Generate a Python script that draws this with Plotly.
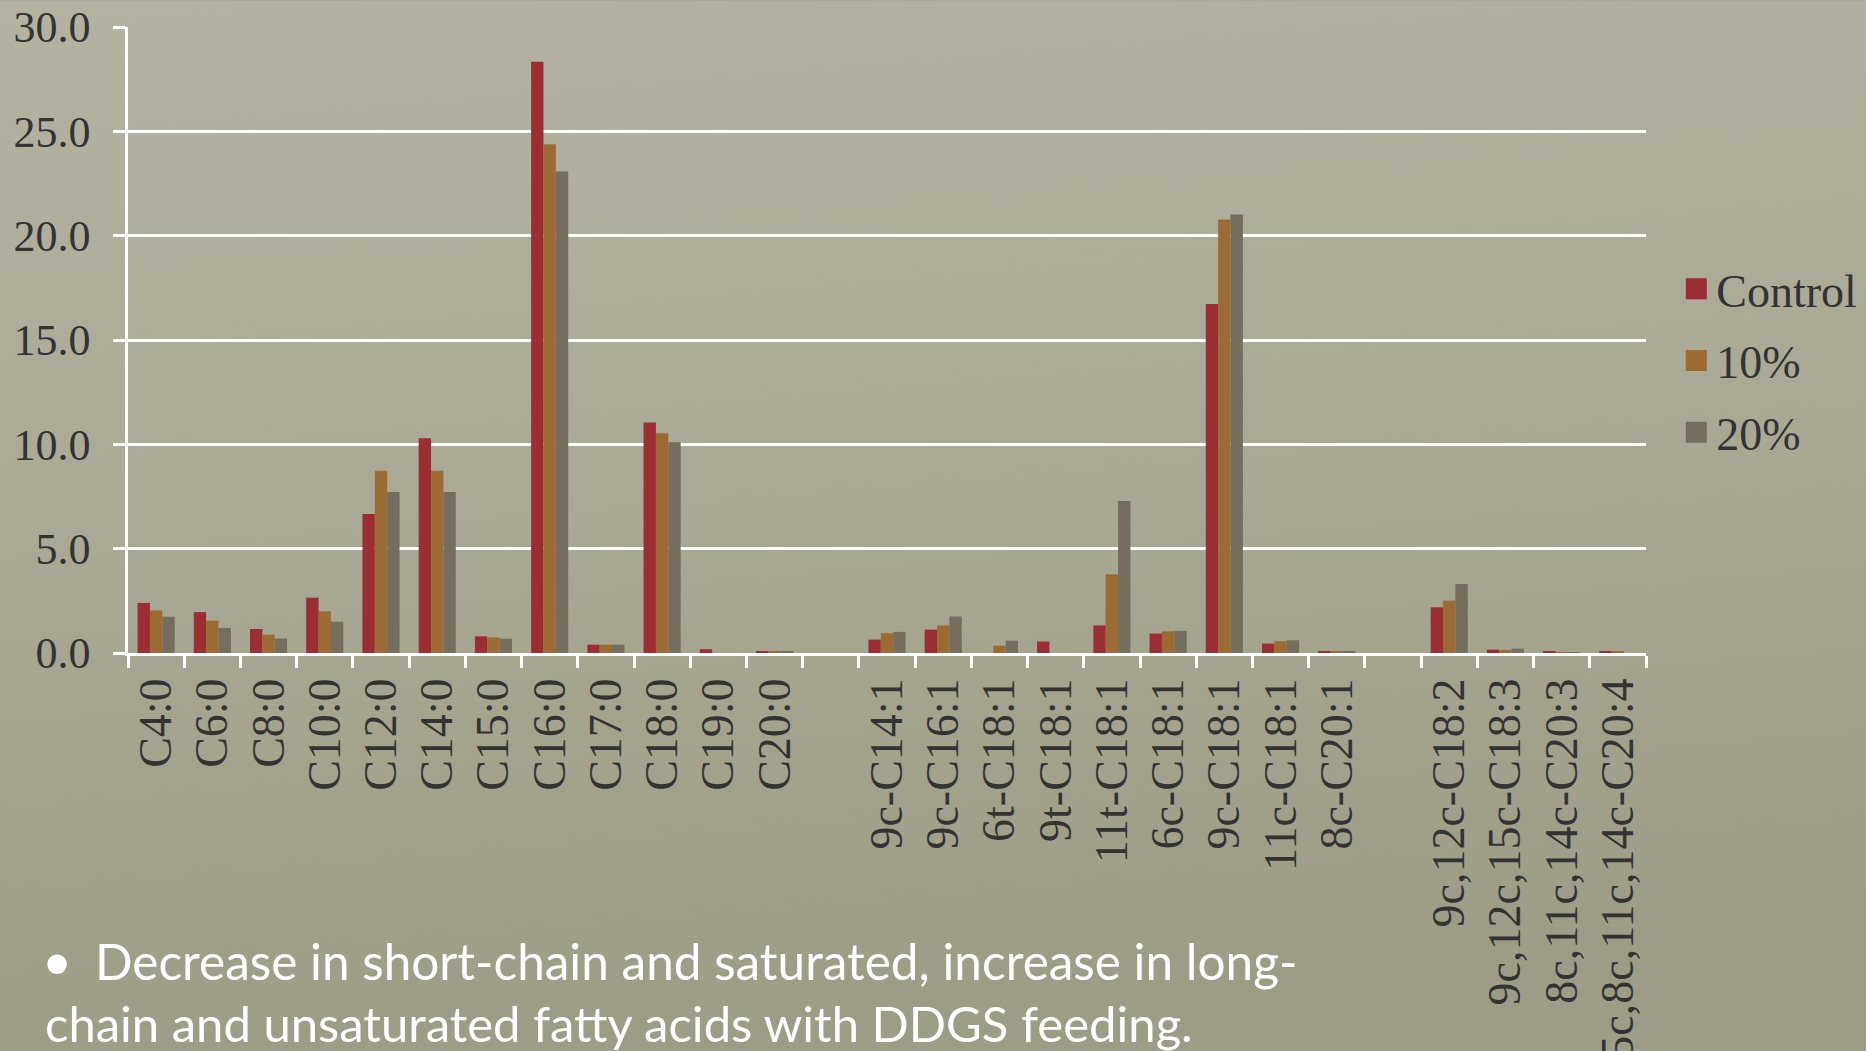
import base64
import plotly.graph_objects as go

W, H = 1866, 1051
PL, PR, PT, PB = 128.3, 1645.7, 26.5, 653.0

categories = ["C4:0", "C6:0", "C8:0", "C10:0", "C12:0", "C14:0", "C15:0", "C16:0",
              "C17:0", "C18:0", "C19:0", "C20:0", " ",
              "9c-C14:1", "9c-C16:1", "6t-C18:1", "9t-C18:1", "11t-C18:1", "6c-C18:1",
              "9c-C18:1", "11c-C18:1", "8c-C20:1", "  ",
              "9c,12c-C18:2", "9c,12c,15c-C18:3", "8c,11c,14c-C20:3", "5c,8c,11c,14c-C20:4"]

control = [2.40, 1.96, 1.15, 2.65, 6.66, 10.29, 0.80, 28.34, 0.40, 11.05, 0.18, 0.06, None,
           0.64, 1.12, 0.0, 0.55, 1.32, 0.93, 16.73, 0.45, 0.06, None,
           2.19, 0.16, 0.06, 0.08]
pct10 = [2.04, 1.55, 0.88, 2.00, 8.74, 8.74, 0.75, 24.38, 0.40, 10.53, 0.0, 0.05, None,
         0.95, 1.32, 0.35, 0.0, 3.77, 1.04, 20.77, 0.56, 0.06, None,
         2.51, 0.14, 0.03, 0.05]
pct20 = [1.74, 1.20, 0.69, 1.50, 7.72, 7.72, 0.69, 23.08, 0.40, 10.10, 0.0, 0.05, None,
         1.01, 1.75, 0.59, 0.0, 7.29, 1.06, 21.01, 0.61, 0.06, None,
         3.31, 0.21, 0.03, 0.0]

series_names = ["Control", "10%", "20%"]
series_colors = ["#9b2e33", "#9c6b33", "#756d5d"]
series_values = [control, pct10, pct20]

y_ticks = [0, 5, 10, 15, 20, 25, 30]

note_bullet = "\u2022"
note_line1 = "Decrease in short-chain and saturated, increase in long-"
note_line2 = "chain and unsaturated fatty acids with DDGS feeding."

fig = go.Figure()
for name, col, vals in zip(series_names, series_colors, series_values):
    fig.add_trace(go.Bar(
        x=categories, y=vals, name=name, showlegend=False,
        marker=dict(color=col, line=dict(width=0)),
    ))
# legend entries (larger square swatches)
for name, col in zip(series_names, series_colors):
    fig.add_trace(go.Scatter(
        x=[None], y=[None], mode="markers", name=name, legendgroup=name,
        marker=dict(symbol="square", size=16, color=col, line=dict(color=col, width=5)),
    ))

def px_x(px):
    return (px - PL) / (PR - PL)

def px_y(py):
    return (PB - py) / (PB - PT)

serif = "Liberation Serif"
txt = "#333333"

# subtle background gradient
svg = (
    f'<svg xmlns="http://www.w3.org/2000/svg" width="{W}" height="{H}">'
    '<defs><linearGradient id="g" x1="0" y1="0" x2="0.15" y2="1">'
    '<stop offset="0" stop-color="#b4b3a2"/>'
    '<stop offset="0.5" stop-color="#aaa995"/>'
    '<stop offset="1" stop-color="#9d9c86"/>'
    '</linearGradient></defs>'
    f'<rect width="{W}" height="{H}" fill="url(#g)"/></svg>'
)
bg_src = "data:image/svg+xml;base64," + base64.b64encode(svg.encode()).decode()

fig.update_layout(
    width=W, height=H,
    margin=dict(l=PL, r=W - PR, t=PT, b=H - PB, pad=0, autoexpand=False),
    paper_bgcolor="#a9a893",
    plot_bgcolor="rgba(0,0,0,0)",
    barmode="group", bargap=0.34, bargroupgap=0,
    font=dict(family=serif, color=txt, size=43),
    showlegend=True,
    legend=dict(x=px_x(1676), y=px_y(252), xanchor="left", yanchor="top",
                bgcolor="rgba(0,0,0,0)", font=dict(family=serif, size=46, color=txt),
                tracegroupgap=9, itemwidth=30),
    images=[dict(source=bg_src, xref="paper", yref="paper",
                 x=px_x(0), y=px_y(0), sizex=W / (PR - PL), sizey=H / (PB - PT),
                 xanchor="left", yanchor="top", sizing="stretch", layer="below")],
    xaxis=dict(type="category", categoryorder="array", categoryarray=categories,
               automargin=False,
               showline=True, linecolor="white", linewidth=3,
               ticks="outside", tickson="boundaries", ticklen=12, tickwidth=2.5,
               tickcolor="white", tickangle=-90, showgrid=False,
               ticklabelstandoff=4,
               tickfont=dict(family=serif, size=46, color=txt)),
    yaxis=dict(range=[0, 30], tickvals=y_ticks, tickformat=".1f", automargin=False,
               showgrid=True, gridcolor="white", gridwidth=2.5,
               showline=True, linecolor="white", linewidth=2.5,
               ticks="outside", ticklen=12, tickwidth=2.5, tickcolor="white",
               zeroline=False, ticklabelstandoff=14,
               tickfont=dict(family=serif, size=44, color=txt)),
)

sans = "Lato, Liberation Sans, sans-serif"
fig.add_annotation(xref="paper", yref="paper", x=px_x(40), y=px_y(960),
                   xanchor="left", yanchor="middle", showarrow=False,
                   text=note_bullet, font=dict(family=sans, size=52, color="white"))
fig.add_annotation(xref="paper", yref="paper", x=px_x(93), y=px_y(961),
                   xanchor="left", yanchor="middle", showarrow=False,
                   text=note_line1, font=dict(family=sans, size=49.5, color="white"))
fig.add_annotation(xref="paper", yref="paper", x=px_x(43), y=px_y(1023),
                   xanchor="left", yanchor="middle", showarrow=False,
                   text=note_line2, font=dict(family=sans, size=49, color="white"))

fig.write_html("out.html")
